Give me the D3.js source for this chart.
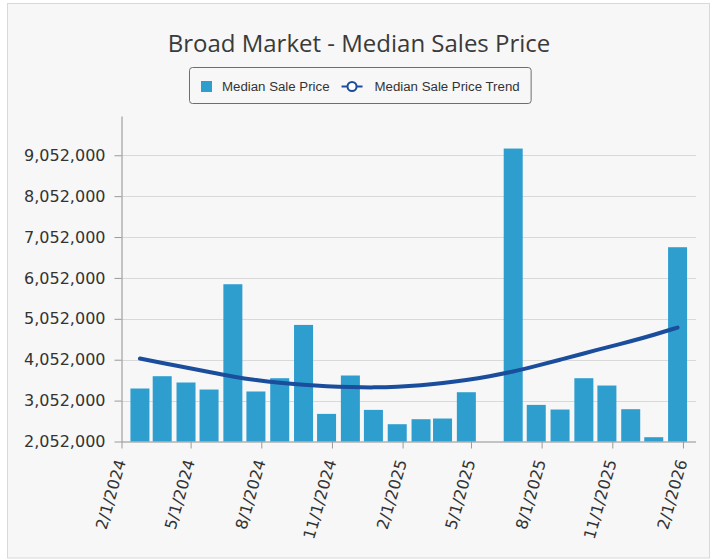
<!DOCTYPE html>
<html>
<head>
<meta charset="utf-8">
<script src="https://cdn.jsdelivr.net/npm/d3@7"></script>
<style>
    body { margin: 0; background: #ffffff; }
    #chart { width: 715px; height: 560px; }
</style>
</head>
<body>
<div id="chart"></div>
<script>
// data: one bar per month, the trend as drawn
const saleDates = [
    '2024-02-25', '2024-03-25', '2024-04-25', '2024-05-25', '2024-06-25', '2024-07-25',
    '2024-08-25', '2024-09-25', '2024-10-25', '2024-11-25', '2024-12-25', '2025-01-25',
    '2025-02-25', '2025-03-25', '2025-04-25', '2025-05-25', '2025-06-25', '2025-07-25',
    '2025-08-25', '2025-09-25', '2025-10-25', '2025-11-25', '2025-12-25', '2026-01-25'
];
const medianSalePrice = [
    3348000, 3649000, 3495000, 3323000, 5898000, 3275000,
    3600000, 4903000, 2727000, 3666000, 2825000, 2475000,
    2597000, 2614000, 3257000, null, 9216000, 2947000,
    2834000, 3600000, 3421000, 2842000, 2157000, 6803000
];
const medianSalePriceTrend = [
    4081000, 3972000, 3862000, 3750000, 3640000, 3553000,
    3487000, 3438000, 3402000, 3381000, 3372000, 3385000,
    3422000, 3480000, 3555000, 3645000, 3760000, 3900000,
    4050000, 4205000, 4355000, 4500000, 4660000, 4839000
];
const yTickValues = [2052000, 3052000, 4052000, 5052000, 6052000, 7052000, 8052000, 9052000];
const xTickDates = [
    '2024-02-01', '2024-05-01', '2024-08-01', '2024-11-01', '2025-02-01',
    '2025-05-01', '2025-08-01', '2025-11-01', '2026-02-01'
];
const seriesNames = ['Median Sale Price', 'Median Sale Price Trend'];

function barTrendChart(options) {

    const {
        parentId = 'chart',
        title = '',
        svgWidth = 715,
        svgHeight = 560,
        plot = { left: 121.5, top: 116.5, right: 696, bottom: 441.5 },
        xDomain = ['2024-02-01', '2026-02-18'],
        yDomain = [2052000, 10000000],
        barColor = '#2e9ecf',
        trendColor = '#1a4e9c'
    } = options;

    var parseDate = d3.timeParse('%Y-%m-%d');
    var formatDate = d3.timeFormat('%-m/%-d/%Y');
    var formatNum = d3.format(',');

    var data = saleDates.map((d, i) => ({
        date: parseDate(d),
        value: medianSalePrice[i],
        trend: medianSalePriceTrend[i]
    }));

    var svg = d3.select('#' + parentId).append('svg')
        .attr('width', svgWidth)
        .attr('height', svgHeight);

    // chart panel
    svg.append('rect')
        .attr('x', 7.5)
        .attr('y', 3.5)
        .attr('width', 702)
        .attr('height', 554.5)
        .attr('fill', '#f7f7f7')
        .attr('stroke', '#d9d9d9');

    var x = d3.scaleTime()
        .domain(xDomain.map(parseDate))
        .range([plot.left, plot.right]);

    var y = d3.scaleLinear()
        .domain(yDomain)
        .range([plot.bottom, plot.top]);

    // grid lines
    svg.append('g')
        .selectAll('line')
        .data(yTickValues.slice(1))
        .enter().append('line')
        .attr('x1', plot.left)
        .attr('x2', plot.right)
        .attr('y1', d => Math.round(y(d)) + 0.5)
        .attr('y2', d => Math.round(y(d)) + 0.5)
        .attr('stroke', '#d9d9d9');

    // bars
    var barWidth = 19;
    svg.append('g')
        .selectAll('rect')
        .data(data.filter(d => d.value != null))
        .enter().append('rect')
        .attr('x', d => x(d.date) - barWidth / 2)
        .attr('y', d => y(d.value))
        .attr('width', barWidth)
        .attr('height', d => y(yDomain[0]) - y(d.value))
        .attr('fill', barColor);

    // y axis
    var yAxis = svg.append('g')
        .attr('transform', `translate(${plot.left},0)`)
        .call(d3.axisLeft(y).tickValues(yTickValues).tickSize(7).tickPadding(9).tickFormat(formatNum));

    yAxis.select('.domain').attr('stroke', '#8e8e8e').attr('d', `M0.5,${plot.bottom}V${plot.top}`);
    yAxis.selectAll('.tick line').attr('stroke', '#9a9a9a');
    yAxis.selectAll('.tick text')
        .attr('fill', '#333333')
        .style('font-family', '"DejaVu Sans", sans-serif')
        .style('font-size', '16px');

    // x axis
    var xAxis = svg.append('g')
        .attr('transform', `translate(0,${plot.bottom})`)
        .call(d3.axisBottom(x).tickValues(xTickDates.map(parseDate)).tickSize(7).tickFormat(formatDate));

    xAxis.select('.domain').attr('stroke', '#8e8e8e').attr('d', `M${plot.left},0.5H${plot.right}`);
    xAxis.selectAll('.tick line').attr('stroke', '#9a9a9a');
    xAxis.selectAll('.tick text')
        .attr('fill', '#333333')
        .attr('y', 0)
        .attr('dy', 0)
        .attr('text-anchor', 'end')
        .attr('transform', 'translate(4,20) rotate(-74)')
        .style('font-family', '"DejaVu Sans", sans-serif')
        .style('font-size', '16px');

    // trend line
    var line = d3.line()
        .x(d => x(d.date))
        .y(d => y(d.trend))
        .curve(d3.curveBasis);

    svg.append('path')
        .datum(data)
        .attr('d', line)
        .attr('fill', 'none')
        .attr('stroke', trendColor)
        .attr('stroke-width', 4)
        .attr('stroke-linecap', 'round');

    // title
    svg.append('text')
        .attr('x', 359)
        .attr('y', 51.5)
        .attr('text-anchor', 'middle')
        .attr('fill', '#3a3a3a')
        .style('font-family', '"Open Sans", sans-serif')
        .style('font-size', '24px')
        .text(title);

    // legend
    var legend = svg.append('g');
    var legendBox = legend.append('rect')
        .attr('y', 67.5)
        .attr('height', 36)
        .attr('rx', 3)
        .attr('fill', 'none')
        .attr('stroke', '#6e6e6e');

    var cursor = 0;
    var offsets = [];
    seriesNames.forEach(function (name, i) {
        var item = legend.append('g').attr('class', 'legend-item');
        var symbolWidth;
        if (i === 0) {
            item.append('rect')
                .attr('x', 0).attr('y', 81)
                .attr('width', 11).attr('height', 11)
                .attr('fill', barColor);
            symbolWidth = 21;
        } else {
            item.append('line')
                .attr('x1', 0).attr('x2', 21)
                .attr('y1', 86.5).attr('y2', 86.5)
                .attr('stroke', trendColor).attr('stroke-width', 2);
            item.append('circle')
                .attr('cx', 10.5).attr('cy', 86.5).attr('r', 4.5)
                .attr('fill', '#ffffff')
                .attr('stroke', trendColor).attr('stroke-width', 2);
            symbolWidth = 33;
        }
        var label = item.append('text')
            .attr('x', symbolWidth)
            .attr('y', 91)
            .attr('fill', '#333333')
            .style('font-family', '"Liberation Sans", Arial, sans-serif')
            .style('font-size', '13.25px')
            .text(name);
        offsets.push(cursor);
        cursor += symbolWidth + label.node().getComputedTextLength() + 12;
    });

    var itemsWidth = cursor - 12;
    var boxWidth = itemsWidth + 23;
    var boxLeft = Math.round(359.5 - boxWidth / 2) + 0.5;
    legendBox.attr('x', boxLeft).attr('width', boxWidth);
    legend.selectAll('.legend-item')
        .attr('transform', (d, i) => `translate(${offsets[i] + boxLeft + 11.5},0)`);

    return { chart: svg };
}

barTrendChart({
    parentId: 'chart',
    title: 'Broad Market - Median Sales Price'
});
</script>
</body>
</html>
